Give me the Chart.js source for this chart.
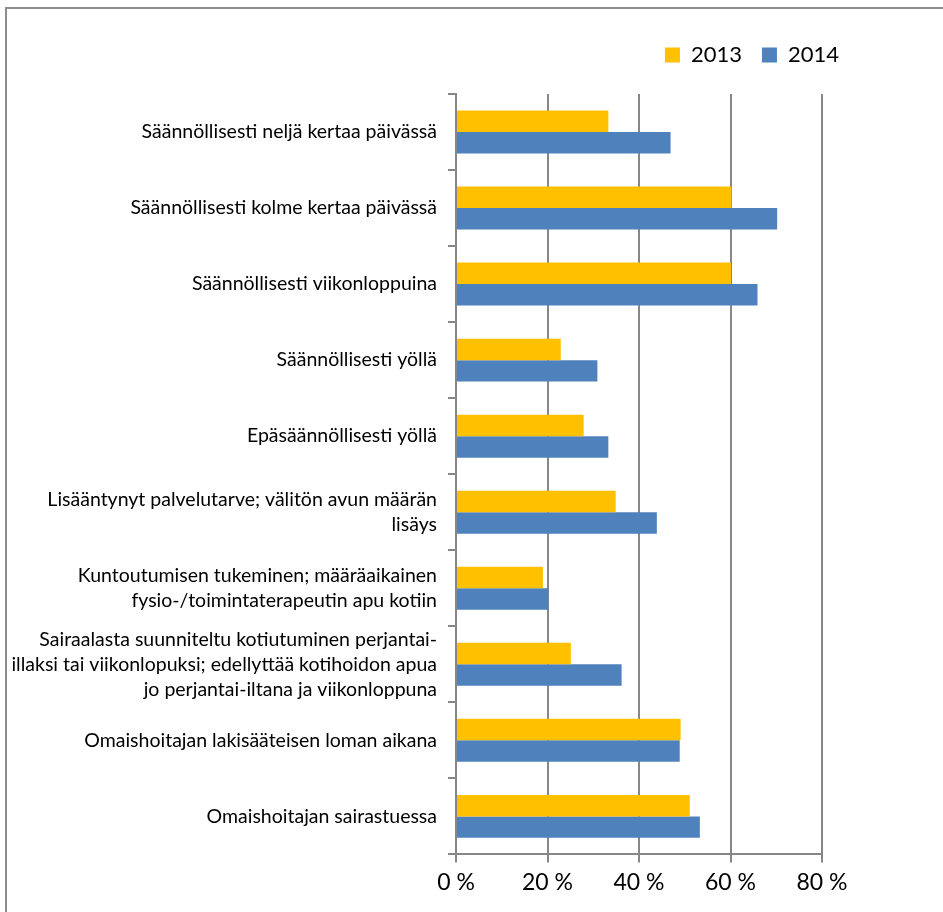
<!DOCTYPE html>
<html>
<head>
<meta charset="utf-8">
<script src="https://cdn.jsdelivr.net/npm/chart.js@4"></script>
<style>
  html, body { margin: 0; padding: 0; background: #fff; overflow: hidden; }
  #frame { position: absolute; left: 5px; top: 7px; width: 960px; height: 940px; border: 2px solid #8c8c8c; }
  #wrap { position: absolute; left: 0; top: 0; width: 943px; height: 912px; }
</style>
</head>
<body>
<div id="frame"></div>
<div id="wrap"><canvas id="chart"></canvas></div>
<script>
const categories = [
    'Säännöllisesti neljä kertaa päivässä',
    'Säännöllisesti kolme kertaa päivässä',
    'Säännöllisesti viikonloppuina',
    'Säännöllisesti yöllä',
    'Epäsäännöllisesti yöllä',
    ['Lisääntynyt palvelutarve; välitön avun määrän', 'lisäys'],
    ['Kuntoutumisen tukeminen; määräaikainen', 'fysio-/toimintaterapeutin apu kotiin'],
    ['Sairaalasta suunniteltu kotiutuminen perjantai-', 'illaksi tai viikonlopuksi; edellyttää kotihoidon apua', 'jo perjantai-iltana ja viikonloppuna'],
    'Omaishoitajan lakisääteisen loman aikana',
    'Omaishoitajan sairastuessa'
];

const values2013 = [33.3, 60.2, 60.1, 22.9, 27.9, 34.9, 19.0, 25.1, 49.1, 51.1];
const values2014 = [46.9, 70.2, 65.9, 30.9, 33.3, 43.9, 20.2, 36.2, 48.9, 53.3];

const xTicks = [0, 20, 40, 60, 80];

const gridGrey = '#878787';

// extra room under the legend so the plot starts lower
const legendGap = {
    id: 'legendGap',
    afterInit(chart) {
        const legend = chart.legend;
        const fit = legend.fit.bind(legend);
        legend.fit = function () {
            fit();
            this.height += 18;
        };
    }
};

const ctx = document.getElementById('chart').getContext('2d');
const chart = new Chart(ctx, {
    type: 'bar',
    data: {
        labels: categories,
        datasets: [{
            label: '2013',
            data: values2013,
            backgroundColor: '#FFC000',
            categoryPercentage: 0.565,
            barPercentage: 1.0
        }, {
            label: '2014',
            data: values2014,
            backgroundColor: '#4F81BD',
            categoryPercentage: 0.565,
            barPercentage: 1.0
        }]
    },
    options: {
        indexAxis: 'y',
        responsive: true,
        maintainAspectRatio: false,
        animation: false,
        layout: {
            padding: { left: 0, right: 84, top: 24, bottom: 10 }
        },
        plugins: {
            legend: {
                position: 'top',
                align: 'end',
                labels: {
                    boxWidth: 15,
                    boxHeight: 15,
                    padding: 20,
                    color: '#000',
                    font: { family: 'Lato', size: 22 }
                }
            },
            tooltip: { enabled: false }
        },
        scales: {
            x: {
                min: 0,
                max: 80,
                afterBuildTicks: (scale) => {
                    scale.ticks = xTicks.map(v => ({ value: v }));
                },
                grid: {
                    color: gridGrey,
                    lineWidth: 2,
                    tickLength: 8
                },
                border: { color: gridGrey, width: 2 },
                ticks: {
                    padding: 6,
                    color: '#000',
                    font: { family: 'Lato', size: 23 },
                    callback: (v) => v + ' %'
                }
            },
            y: {
                afterFit: (scale) => { scale.width = 456; },
                grid: {
                    drawOnChartArea: false,
                    color: gridGrey,
                    lineWidth: 2,
                    tickLength: 8
                },
                border: { color: gridGrey, width: 2 },
                ticks: {
                    autoSkip: false,
                    padding: 11,
                    color: '#000',
                    font: { family: 'Lato', size: 19.5, lineHeight: 1.28 }
                }
            },
            spacer: {
                type: 'linear',
                position: 'right',
                display: true,
                afterFit: (scale) => { scale.width = 37; },
                grid: { display: false },
                border: { display: false },
                ticks: { display: false }
            }
        }
    },
    plugins: [legendGap]
});
</script>
</body>
</html>
